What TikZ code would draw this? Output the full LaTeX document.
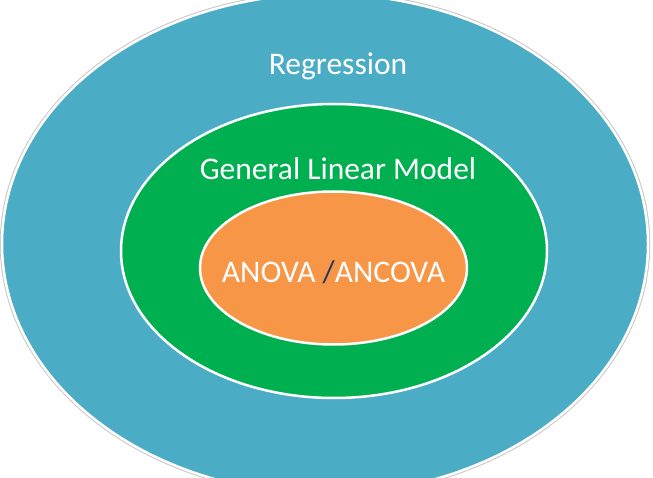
\documentclass[tikz,border=0pt]{standalone}
\usepackage{fontspec}
\setmainfont{Carlito}
\usetikzlibrary{shapes.geometric}
\definecolor{regblue}{HTML}{4BACC6}
\definecolor{glmgreen}{HTML}{00B050}
\definecolor{anovaorange}{HTML}{F79646}
\definecolor{slashnavy}{HTML}{1F3864}
\begin{document}
\begin{tikzpicture}[x=1pt,y=-1pt,
every node/.style={inner sep=0pt,outer sep=0pt},
ring/.style={ellipse,draw=white,line width=2.5pt},
shadowed/.style={preaction={draw=black!22,line width=4.5pt}},
ringtext/.style={anchor=base,text=white,font=\fontsize{31.5}{36}\selectfont}]

\useasboundingbox (0,0) rectangle (653,478);
\clip (0,0) rectangle (653,478);

% the three nested sets
\node[ring,shadowed,fill=regblue,minimum width=646,minimum height=500] (regression) at (325,244) {};
\node[ring,fill=glmgreen,minimum width=426,minimum height=294] (glm) at (334,251) {};
\node[ring,fill=anovaorange,minimum width=267,minimum height=153] (anova) at (333.5,268) {};

\node[ringtext] (regtext) at (338,75) {Regression};
\node[ringtext] (glmtext) at (338,180) {General Linear Model};
\node[ringtext] (anovatext) at (333.5,283) {ANOVA \textcolor{slashnavy}{/}ANCOVA};

\end{tikzpicture}
\end{document}
